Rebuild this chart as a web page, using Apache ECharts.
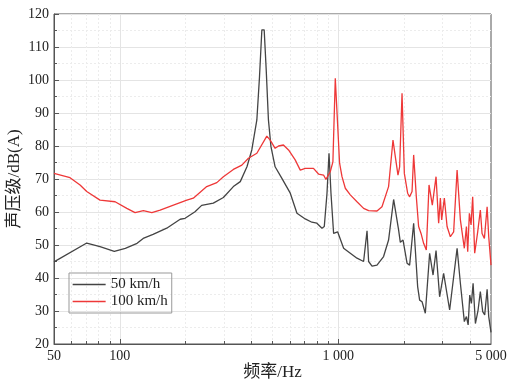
<!DOCTYPE html>
<html>
<head>
<meta charset="utf-8">
<script src="https://cdn.jsdelivr.net/npm/echarts@6/dist/echarts.min.js"></script>
<style>
html,body{margin:0;padding:0;background:#fff;}
#main{width:508px;height:384px;}
</style>
</head>
<body>
<div id="main"></div>
<script>
// 50 km/h
var freq50 = [50,70.6,81.2,94.4,106,120,128,142,164,189,199,221,237,268,298,331,356,382,402,424,436,447,458,468,479,492,514,552,603,647,706,757,798,842,863,888,907,926,952,993,1058,1135,1218,1306,1320,1354,1377,1427,1504,1612,1699,1792,1889,1923,1979,2064,2121,2213,2308,2357,2418,2503,2619,2715,2802,2910,3035,3234,3498,3621,3775,3859,3930,3997,4068,4140,4242,4364,4469,4582,4679,4800,4882,5000];
var spl50 = [44.9,50.6,49.5,48.1,49.0,50.5,52.0,53.2,55.1,57.8,58.1,60.1,62.0,62.7,64.4,67.7,69.2,73.7,78.8,87.9,101,115.2,115.2,103,87.9,79.8,73.7,70.2,65.7,59.6,57.9,56.9,56.6,55.1,55.6,65.7,77.8,65.7,53.5,54.0,49.0,47.5,46.0,45.0,45.2,54.3,45.0,43.6,43.9,46.5,51.5,63.8,54.5,50.8,51.5,44.5,43.9,56.6,37.4,33.3,32.8,29.3,47.5,40.9,48.3,34.3,41.4,30.3,49.0,38.4,26.8,28.3,25.8,34.8,32.3,38.4,26.2,30.3,35.9,29.8,28.8,36.6,28.3,23.5];

// 100 km/h
var freq100 = [50,59.2,65.8,70.6,81.2,95.2,107.7,117.5,128.2,140.2,153,176,202.7,217,250,278,298,331,362,388,424,471,488,514,533,561,592,635,670,706,770,812,856,878,919,945,969,986,1014,1040,1077,1135,1218,1306,1377,1504,1585,1699,1780,1824,1876,1909,1958,2006,2077,2121,2176,2213,2276,2332,2392,2458,2529,2602,2694,2802,2880,2933,2973,3058,3147,3258,3373,3498,3621,3775,3859,3912,3981,4052,4122,4210,4346,4469,4550,4664,4800,4882,5000];
var spl100 = [71.7,70.4,68.2,66.2,63.6,63.1,61.1,59.8,60.4,59.8,60.6,62.1,63.6,64.2,67.7,68.9,70.7,72.9,74.2,76.3,77.8,83.0,81.8,79.3,80.0,80.3,78.8,75.8,72.7,73.2,73.2,71.5,71.2,69.9,72.2,75.2,100.5,100.3,74.8,70.7,67.2,65.2,63.1,61.1,60.4,60.3,61.6,67.7,81.8,76.8,71.2,73.7,96.0,71.7,65.7,64.6,66.2,77.3,64.6,55.6,53.5,50.5,48.5,68.2,62.1,70.7,56.6,64.2,57.6,64.2,55.6,52.5,54.0,72.7,57.6,49.0,55.6,48.0,59.6,56.1,64.6,47.5,54.0,60.6,53.5,52.0,61.6,52.5,43.9];

// axis marks
var xLabels = [50, 100, 1000, 5000];
var xMajorTicks = [100, 1000];
var xMinorTicks = [60,70,80,90,200,300,400,500,600,700,800,900,2000,3000,4000];

function pairs(xs, ys){
	var out = [];
	for (var i = 0; i < xs.length; i++) out.push([xs[i], ys[i]]);
	return out;
}

var font = '"Liberation Serif","Noto Sans CJK SC",serif';
var chart = echarts.init(document.getElementById('main'));
var option = {
	animation: false,
	grid: {
		left: 54, right: 17, top: 14, bottom: 40,
		outerBoundsMode: 'none',
		containLabel: false,
		show: true, borderColor: '#555', borderWidth: 1
	},
	legend: {
		orient: 'vertical',
		left: 69, top: 273,
		padding: [4, 4, 4, 3],
		itemGap: 2,
		itemWidth: 33,
		itemHeight: 14,
		borderColor: '#999',
		borderWidth: 1,
		itemStyle: {opacity: 0},
		lineStyle: {width: 1.3},
		textStyle: {fontFamily: font, fontSize: 15, color: '#222'},
		data: ['50 km/h', '100 km/h']
	},
	xAxis: [{
		type: 'log',
		min: 50, max: 5000,
		name: '频率/Hz',
		nameLocation: 'middle',
		nameGap: 20,
		nameMoveOverlap: false,
		nameTextStyle: {fontFamily: font, fontSize: 17, color: '#222'},
		axisLine: {show: true, lineStyle: {color: '#555'}},
		axisTick: {show: true, inside: true, length: 5, customValues: xMajorTicks, lineStyle: {color: '#555'}},
		axisLabel: {
			customValues: xLabels,
			fontFamily: font, fontSize: 14, color: '#222', margin: 5,
			formatter: function(v){ return String(Math.round(v)).replace(/\B(?=(\d{3})+(?!\d))/g, ' '); }
		},
		splitLine: {show: true, lineStyle: {color: '#e4e4e4', width: 1}}
	}, {
		type: 'log',
		min: 50, max: 5000,
		position: 'bottom',
		axisLine: {show: false},
		axisTick: {show: true, inside: true, length: 3, customValues: xMinorTicks, lineStyle: {color: '#555'}},
		axisLabel: {show: false},
		splitLine: {show: true, lineStyle: {color: '#ececec', type: [2, 2], width: 1}}
	}],
	yAxis: {
		type: 'value',
		min: 20, max: 120, interval: 10,
		name: '声压级/dB(A)',
		nameLocation: 'middle',
		nameGap: 31,
		nameMoveOverlap: false,
		nameTextStyle: {fontFamily: font, fontSize: 17, color: '#222'},
		axisLine: {show: true, lineStyle: {color: '#555'}},
		axisTick: {show: true, inside: true, length: 5, lineStyle: {color: '#555'}},
		minorTick: {show: true, splitNumber: 2, length: 3, lineStyle: {color: '#555'}},
		axisLabel: {fontFamily: font, fontSize: 14, color: '#222', margin: 5},
		splitLine: {show: true, lineStyle: {color: '#e4e4e4', width: 1}},
		minorSplitLine: {show: true, lineStyle: {color: '#ececec', type: [2, 2], width: 1}}
	},
	series: [{
		name: '50 km/h',
		type: 'line',
		symbol: 'none',
		xAxisIndex: 0,
		lineStyle: {color: '#444', width: 1.3},
		itemStyle: {color: '#444'},
		data: pairs(freq50, spl50)
	}, {
		name: '100 km/h',
		type: 'line',
		symbol: 'none',
		xAxisIndex: 0,
		lineStyle: {color: '#ee3838', width: 1.3},
		itemStyle: {color: '#ee3838'},
		data: pairs(freq100, spl100)
	}]
};
chart.setOption(option);
</script>
</body>
</html>
